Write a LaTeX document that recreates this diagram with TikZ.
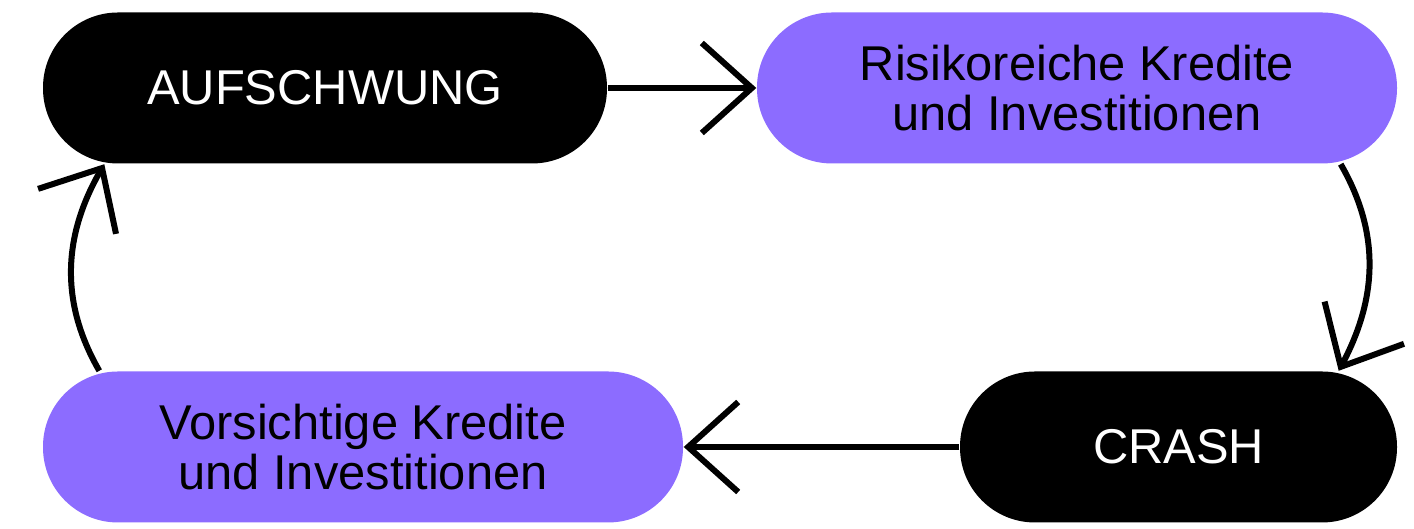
\documentclass[tikz,border=0pt]{standalone}
\usepackage{fontspec}
\setmainfont{Liberation Sans}
\usetikzlibrary{arrows.meta}
\definecolor{lila}{RGB}{140,108,255}
\begin{document}
\begin{tikzpicture}[
    phase/.style={rounded corners=7.5mm,minimum height=1.51cm,inner sep=0pt,align=center,font=\fontsize{13.9}{14.4}\selectfont},
    dunkel/.style={phase,fill=black,text=white},
    hell/.style={phase,fill=lila,text=black},
    pfeil/.style={line width=0.6mm,-{Straight Barb[length=5mm,width=9mm,line width=0.6mm]}}]
            \useasboundingbox(0,0)rectangle(14.14,5.29);
            \node[dunkel,minimum width=5.64cm]at(3.25,4.41)(auf){AUFSCHWUNG};
            \node[hell,minimum width=6.40cm]at(10.77,4.41)(risk){Risikoreiche Kredite\\und Investitionen};
            \node[dunkel,minimum width=4.37cm]at(11.785,0.82)(crash){CRASH};
            \node[hell,minimum width=6.40cm]at(3.63,0.82)(vor){Vorsichtige Kredite\\und Investitionen};
            \draw[pfeil](auf.east)--(risk.west);
            \draw[pfeil](crash.west)--(vor.east);
            \draw[pfeil]([xshift=-5.7mm]risk.south east)to[out=-60,in=62]([xshift=-5.9mm]crash.north east);
            \draw[pfeil]([xshift=5.7mm]vor.north west)to[out=120,in=240]([xshift=6.2mm]auf.south west);
        \end{tikzpicture}
\end{document}
